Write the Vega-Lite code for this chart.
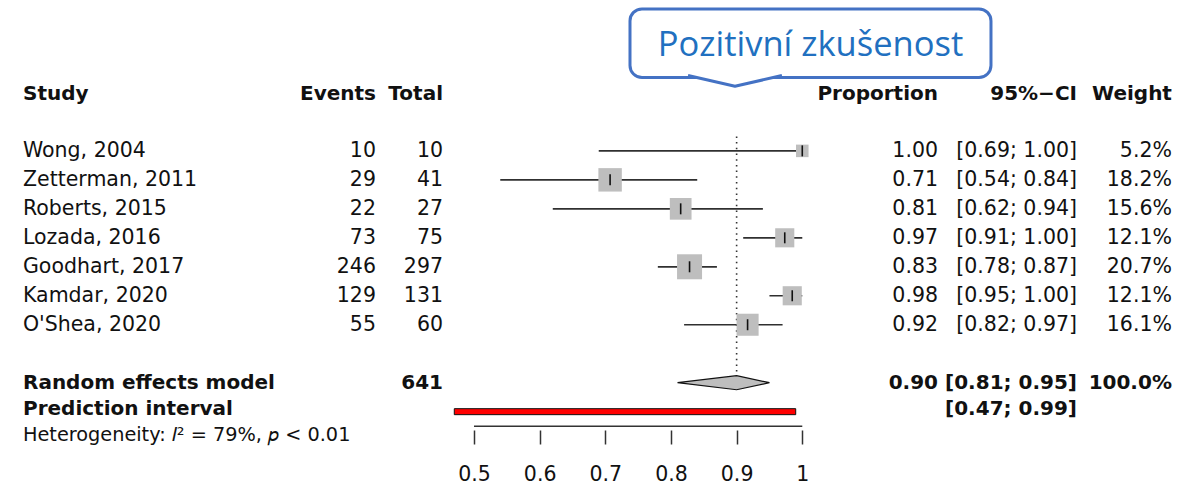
{
  "$schema": "https://vega.github.io/schema/vega-lite/v6.json",
  "width": 1194,
  "height": 487,
  "padding": 0,
  "autosize": {"type": "pad"},
  "background": "white",
  "config": {"view": {"stroke": null}, "axisY": {"disable": true}},
  "datasets": {
    "studies": [
      {"study": "Wong, 2004", "events": "10", "total": "10", "est": 1.0, "lower": 0.69, "upper": 1.0, "prop": "1.00", "ci": "[0.69; 1.00]", "weight": 5.2, "wlabel": "5.2%", "row": 2},
      {"study": "Zetterman, 2011", "events": "29", "total": "41", "est": 0.7073, "lower": 0.54, "upper": 0.84, "prop": "0.71", "ci": "[0.54; 0.84]", "weight": 18.2, "wlabel": "18.2%", "row": 3},
      {"study": "Roberts, 2015", "events": "22", "total": "27", "est": 0.8148, "lower": 0.62, "upper": 0.94, "prop": "0.81", "ci": "[0.62; 0.94]", "weight": 15.6, "wlabel": "15.6%", "row": 4},
      {"study": "Lozada, 2016", "events": "73", "total": "75", "est": 0.9733, "lower": 0.91, "upper": 1.0, "prop": "0.97", "ci": "[0.91; 1.00]", "weight": 12.1, "wlabel": "12.1%", "row": 5},
      {"study": "Goodhart, 2017", "events": "246", "total": "297", "est": 0.8283, "lower": 0.78, "upper": 0.87, "prop": "0.83", "ci": "[0.78; 0.87]", "weight": 20.7, "wlabel": "20.7%", "row": 6},
      {"study": "Kamdar, 2020", "events": "129", "total": "131", "est": 0.9847, "lower": 0.95, "upper": 1.0, "prop": "0.98", "ci": "[0.95; 1.00]", "weight": 12.1, "wlabel": "12.1%", "row": 7},
      {"study": "O'Shea, 2020", "events": "55", "total": "60", "est": 0.9167, "lower": 0.82, "upper": 0.97, "prop": "0.92", "ci": "[0.82; 0.97]", "weight": 16.1, "wlabel": "16.1%", "row": 8}
    ],
    "header": [
      {"study": "Study", "events": "Events", "total": "Total", "prop": "Proportion", "ci": "95%−CI", "weight": "Weight", "row": 0.05}
    ],
    "pooled": [
      {"label": "Random effects model", "total": "641", "prop": "0.90", "ci": "[0.81; 0.95]", "weight": "100.0%", "row": 10},
      {"label": "Prediction interval", "total": "", "prop": "", "ci": "[0.47; 0.99]", "weight": "", "row": 10.9}
    ],
    "het": [{"text": "Heterogeneity: 𝐼² = 79%, 𝑝 < 0.01", "row": 11.82}],
    "ref": [{"est": 0.9, "row": 1.5, "row2": 9.75}],
    "diamond": [
      {"x": 0.81, "row": 10, "row2": 10},
      {"x": 0.90, "row": 9.757, "row2": 10.243},
      {"x": 0.95, "row": 10, "row2": 10}
    ],
    "pred": [{"lower": 0.47, "upper": 0.99, "row": 11}],
    "axisline": [{"from": 0.5, "to": 1, "row": 11.5}],
    "callout": [{"x": 0.7376, "x2": 1.2874, "row": -2.899, "row2": -0.533, "cx": 1.0125, "crow": -1.614, "label": "Pozitivní zkušenost"}],
    "pointer": [
      {"x": 0.826, "row": -0.601, "row2": -0.601},
      {"x": 0.8975, "row": -0.601, "row2": -0.229},
      {"x": 0.969, "row": -0.601, "row2": -0.601}
    ]
  },
  "encoding": {
    "y": {"field": "row", "type": "quantitative", "scale": {"domain": [-3.034, 13.427], "reverse": true, "nice": false, "zero": false}, "axis": null}
  },
  "layer": [
    {
      "data": {"name": "studies"},
      "mark": {"type": "rule", "color": "#303030", "strokeWidth": 1.7},
      "encoding": {
        "x": {"field": "lower", "type": "quantitative",
          "scale": {"domain": [-0.2219, 1.5966], "nice": false, "zero": false},
          "axis": {"values": [0.5, 0.6, 0.7, 0.8, 0.9, 1], "format": "~g", "title": null, "domain": false, "grid": false,
            "offset": -57, "tickSize": 14, "tickWidth": 1.5, "tickColor": "#333333", "labelFont": "DejaVu Sans", "labelFontSize": 20.5,
            "labelColor": "#111111", "labelPadding": 20, "labelFlush": false, "labelOverlap": false}},
        "x2": {"field": "upper"}
      }
    },
    {
      "data": {"name": "axisline"},
      "mark": {"type": "rule", "color": "#333333", "strokeWidth": 1.5},
      "encoding": {"x": {"field": "from", "type": "quantitative"}, "x2": {"field": "to"}}
    },
    {
      "data": {"name": "ref"},
      "mark": {"type": "rule", "color": "#333333", "strokeWidth": 1.6, "strokeDash": [1.5, 4.2]},
      "encoding": {"x": {"field": "est", "type": "quantitative"}, "y2": {"field": "row2"}}
    },
    {
      "data": {"name": "studies"},
      "mark": {"type": "point", "shape": "square", "filled": true, "color": "#bebebe", "opacity": 1, "strokeWidth": 0},
      "encoding": {
        "x": {"field": "est", "type": "quantitative"},
        "size": {"field": "weight", "type": "quantitative", "scale": {"domain": [0, 20.7], "range": [0, 625]}, "legend": null}
      }
    },
    {
      "data": {"name": "studies"},
      "mark": {"type": "tick", "orient": "vertical", "size": 11, "thickness": 1.6, "color": "#111111", "opacity": 1},
      "encoding": {"x": {"field": "est", "type": "quantitative"}}
    },
    {
      "data": {"name": "diamond"},
      "mark": {"type": "area", "orient": "vertical", "fill": "#bebebe", "stroke": "#111111", "strokeWidth": 1.2, "opacity": 1},
      "encoding": {"x": {"field": "x", "type": "quantitative"}, "y2": {"field": "row2"}}
    },
    {
      "data": {"name": "pred"},
      "mark": {"type": "bar", "orient": "horizontal", "height": 6, "fill": "#ff0000", "stroke": "#111111", "strokeWidth": 1},
      "encoding": {"x": {"field": "lower", "type": "quantitative"}, "x2": {"field": "upper"}}
    },
    {
      "data": {"name": "callout"},
      "mark": {"type": "rect", "fill": "white", "stroke": "#4472c4", "strokeWidth": 3, "cornerRadius": 12},
      "encoding": {"x": {"field": "x", "type": "quantitative"}, "x2": {"field": "x2"}, "y2": {"field": "row2"}}
    },
    {
      "data": {"name": "pointer"},
      "mark": {"type": "area", "orient": "vertical", "fill": "white", "opacity": 1},
      "encoding": {"x": {"field": "x", "type": "quantitative"}, "y2": {"field": "row2"}}
    },
    {
      "data": {"name": "pointer"},
      "mark": {"type": "line", "color": "#4472c4", "strokeWidth": 3, "strokeJoin": "round"},
      "encoding": {"x": {"field": "x", "type": "quantitative"}, "y": {"field": "row2", "type": "quantitative"}}
    },
    {
      "data": {"name": "callout"},
      "mark": {"type": "text", "align": "center", "baseline": "middle", "font": "Open Sans", "fontSize": 34.5, "color": "#2170c0"},
      "encoding": {"x": {"field": "cx", "type": "quantitative"}, "y": {"field": "crow", "type": "quantitative"}, "text": {"field": "label"}}
    },
    {
      "data": {"name": "header"},
      "mark": {"type": "text", "align": "left", "baseline": "middle", "font": "DejaVu Sans", "fontWeight": "bold", "fontSize": 20, "color": "#111111"},
      "encoding": {"x": {"datum": -0.1869}, "text": {"field": "study"}}
    },
    {
      "data": {"name": "header"},
      "mark": {"type": "text", "align": "right", "baseline": "middle", "font": "DejaVu Sans", "fontWeight": "bold", "fontSize": 20, "color": "#111111"},
      "encoding": {"x": {"datum": 0.3507}, "text": {"field": "events"}}
    },
    {
      "data": {"name": "header"},
      "mark": {"type": "text", "align": "right", "baseline": "middle", "font": "DejaVu Sans", "fontWeight": "bold", "fontSize": 20, "color": "#111111"},
      "encoding": {"x": {"datum": 0.4528}, "text": {"field": "total"}}
    },
    {
      "data": {"name": "header"},
      "mark": {"type": "text", "align": "right", "baseline": "middle", "font": "DejaVu Sans", "fontWeight": "bold", "fontSize": 20, "color": "#111111"},
      "encoding": {"x": {"datum": 1.2067}, "text": {"field": "prop"}}
    },
    {
      "data": {"name": "header"},
      "mark": {"type": "text", "align": "right", "baseline": "middle", "font": "DejaVu Sans", "fontWeight": "bold", "fontSize": 20, "color": "#111111"},
      "encoding": {"x": {"datum": 1.4184}, "text": {"field": "ci"}}
    },
    {
      "data": {"name": "header"},
      "mark": {"type": "text", "align": "right", "baseline": "middle", "font": "DejaVu Sans", "fontWeight": "bold", "fontSize": 20, "color": "#111111"},
      "encoding": {"x": {"datum": 1.563}, "text": {"field": "weight"}}
    },
    {
      "data": {"name": "studies"},
      "mark": {"type": "text", "align": "left", "baseline": "middle", "font": "DejaVu Sans", "fontSize": 20.5, "color": "#111111"},
      "encoding": {"x": {"datum": -0.1869}, "text": {"field": "study"}}
    },
    {
      "data": {"name": "studies"},
      "mark": {"type": "text", "align": "right", "baseline": "middle", "font": "DejaVu Sans", "fontSize": 20.5, "color": "#111111"},
      "encoding": {"x": {"datum": 0.3507}, "text": {"field": "events"}}
    },
    {
      "data": {"name": "studies"},
      "mark": {"type": "text", "align": "right", "baseline": "middle", "font": "DejaVu Sans", "fontSize": 20.5, "color": "#111111"},
      "encoding": {"x": {"datum": 0.4528}, "text": {"field": "total"}}
    },
    {
      "data": {"name": "studies"},
      "mark": {"type": "text", "align": "right", "baseline": "middle", "font": "DejaVu Sans", "fontSize": 20.5, "color": "#111111"},
      "encoding": {"x": {"datum": 1.2067}, "text": {"field": "prop"}}
    },
    {
      "data": {"name": "studies"},
      "mark": {"type": "text", "align": "right", "baseline": "middle", "font": "DejaVu Sans", "fontSize": 20.5, "color": "#111111"},
      "encoding": {"x": {"datum": 1.4184}, "text": {"field": "ci"}}
    },
    {
      "data": {"name": "studies"},
      "mark": {"type": "text", "align": "right", "baseline": "middle", "font": "DejaVu Sans", "fontSize": 20.5, "color": "#111111"},
      "encoding": {"x": {"datum": 1.563}, "text": {"field": "wlabel"}}
    },
    {
      "data": {"name": "pooled"},
      "mark": {"type": "text", "align": "left", "baseline": "middle", "font": "DejaVu Sans", "fontWeight": "bold", "fontSize": 20, "color": "#111111"},
      "encoding": {"x": {"datum": -0.1869}, "text": {"field": "label"}}
    },
    {
      "data": {"name": "pooled"},
      "mark": {"type": "text", "align": "right", "baseline": "middle", "font": "DejaVu Sans", "fontWeight": "bold", "fontSize": 20, "color": "#111111"},
      "encoding": {"x": {"datum": 0.4528}, "text": {"field": "total"}}
    },
    {
      "data": {"name": "pooled"},
      "mark": {"type": "text", "align": "right", "baseline": "middle", "font": "DejaVu Sans", "fontWeight": "bold", "fontSize": 20, "color": "#111111"},
      "encoding": {"x": {"datum": 1.2067}, "text": {"field": "prop"}}
    },
    {
      "data": {"name": "pooled"},
      "mark": {"type": "text", "align": "right", "baseline": "middle", "font": "DejaVu Sans", "fontWeight": "bold", "fontSize": 20, "color": "#111111"},
      "encoding": {"x": {"datum": 1.4184}, "text": {"field": "ci"}}
    },
    {
      "data": {"name": "pooled"},
      "mark": {"type": "text", "align": "right", "baseline": "middle", "font": "DejaVu Sans", "fontWeight": "bold", "fontSize": 20, "color": "#111111"},
      "encoding": {"x": {"datum": 1.563}, "text": {"field": "weight"}}
    },
    {
      "data": {"name": "het"},
      "mark": {"type": "text", "align": "left", "baseline": "middle", "font": "DejaVu Sans", "fontSize": 19.3, "color": "#111111"},
      "encoding": {"x": {"datum": -0.1869}, "text": {"field": "text"}}
    }
  ]
}
